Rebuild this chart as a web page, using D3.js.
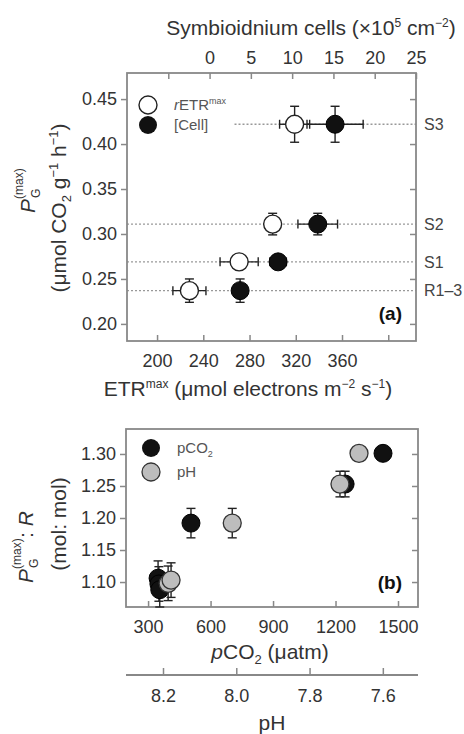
<!DOCTYPE html>
<html><head><meta charset="utf-8">
<script src="https://cdn.jsdelivr.net/npm/d3@7"></script>
<style>
html,body{margin:0;padding:0;background:#fff;}
svg{display:block;font-family:"Liberation Sans",Arial,sans-serif;}
</style></head>
<body>
<svg id="chart" width="464" height="734"></svg>
<script>
// ---------- Panel (a) data ----------
const lineLabels   = ["S3", "S2", "S1", "R1–3"];
const pgMax        = [0.422, 0.311, 0.269, 0.237];
const pgErr        = [0.020, 0.012, 0.005, 0.013];
const etrMax       = [319, 300, 271, 228];
const etrErr       = [13, 3, 16.5, 14.3];
const cells        = [15.2, 13.1, 8.3, 3.7];
const cellsErr     = [3.4, 2.4, 1.0, 0.0];
const lineStartEtr = [267, null, null, null];
const etrTicks  = [200, 240, 280, 320, 360, 400];
const etrLabels = ["200", "240", "280", "320", "360", ""];
const cellTicks  = [-5, 0, 5, 10, 15, 20, 25];
const cellLabels = ["", "0", "5", "10", "15", "20", "25"];
const pgTicks = [0.20, 0.25, 0.30, 0.35, 0.40, 0.45];

// ---------- Panel (b) data ----------
const pco2      = [348, 352, 356, 506, 1246, 1428];
const ratioCO2  = [1.106, 1.097, 1.088, 1.192, 1.253, 1.301];
const errCO2    = [0.027, 0.027, 0.027, 0.023, 0.020, 0.008];
const pHvals    = [8.186, 8.178, 8.011, 7.717, 7.665];
const ratioPH   = [1.098, 1.103, 1.192, 1.253, 1.301];
const errPH     = [0.027, 0.027, 0.023, 0.020, 0.008];
const pco2Ticks = [300, 600, 900, 1200, 1500];
const pHTicks   = [8.2, 8.0, 7.8, 7.6];
const ratioTicks = [1.10, 1.15, 1.20, 1.25, 1.30];

const svg = d3.select("#chart");
const TXT = "#333", FRAME = "#888", R = 9;

function styleAxis(g){
  g.select(".domain").remove();
  g.selectAll(".tick line").attr("stroke", FRAME).attr("stroke-width", 1.5);
  g.selectAll(".tick text").attr("fill", TXT).style("font-size", "18px")
   .style("font-family", '"Liberation Sans",Arial,sans-serif');
}
function frame(x0, x1, y0, y1){
  svg.append("rect").attr("x", x0).attr("y", y0).attr("width", x1 - x0).attr("height", y1 - y0)
    .attr("fill", "none").attr("stroke", FRAME).attr("stroke-width", 1.8);
}
function errX(g, x0, x1, y){
  g.append("line").attr("x1", x0).attr("x2", x1).attr("y1", y).attr("y2", y);
  g.append("line").attr("x1", x0).attr("x2", x0).attr("y1", y - 4.5).attr("y2", y + 4.5);
  g.append("line").attr("x1", x1).attr("x2", x1).attr("y1", y - 4.5).attr("y2", y + 4.5);
}
function errY(g, x, y0, y1){
  g.append("line").attr("x1", x).attr("x2", x).attr("y1", y0).attr("y2", y1);
  g.append("line").attr("x1", x - 4.5).attr("x2", x + 4.5).attr("y1", y0).attr("y2", y0);
  g.append("line").attr("x1", x - 4.5).attr("x2", x + 4.5).attr("y1", y1).attr("y2", y1);
}

// ================= Panel (a) =================
const aL = 127, aR = 416, aT = 73, aB = 341;
const xE = d3.scaleLinear().domain([174, 424]).range([aL, aR]);
const xC = d3.scaleLinear().domain([-10, 25]).range([aL, aR]);
const yA = d3.scaleLinear().domain([0.181, 0.479]).range([aB, aT]);

// dotted reference lines
const refG = svg.append("g");
pgMax.forEach((v, i) => {
  const s = lineStartEtr[i] == null ? xE.domain()[0] : lineStartEtr[i];
  refG.append("line").attr("x1", xE(s)).attr("x2", aR).attr("y1", yA(v)).attr("y2", yA(v))
    .attr("stroke", "#999").attr("stroke-width", 1.3).attr("stroke-dasharray", "2,2");
  svg.append("text").attr("x", aR + 8).attr("y", yA(v)).attr("dy", "0.36em")
    .attr("fill", "#444").style("font-size", "16px").text(lineLabels[i]);
});

// axes
svg.append("g").attr("transform", `translate(${aL},0)`)
  .call(d3.axisLeft(yA).tickValues(pgTicks).tickSizeInner(6).tickSizeOuter(0).tickPadding(4).tickFormat(d3.format(".2f")))
  .call(styleAxis);
svg.append("g").attr("transform", `translate(${aR},0)`)
  .call(d3.axisLeft(yA).tickValues(pgTicks).tickSizeInner(6).tickSizeOuter(0).tickFormat(""))
  .call(styleAxis);
svg.append("g").attr("transform", `translate(0,${aB})`)
  .call(d3.axisBottom(xE).tickValues(etrTicks).tickSizeInner(-6).tickSizeOuter(0).tickPadding(13)
    .tickFormat((d, i) => etrLabels[i]))
  .call(styleAxis);
svg.append("g").attr("transform", `translate(0,${aT})`)
  .call(d3.axisTop(xC).tickValues(cellTicks).tickSizeInner(-6).tickSizeOuter(0).tickPadding(9)
    .tickFormat((d, i) => cellLabels[i]))
  .call(styleAxis);
frame(aL, aR, aT, aB);

// error bars + points
const ebA = svg.append("g").attr("stroke", "#222").attr("stroke-width", 1.4);
pgMax.forEach((v, i) => {
  const y = yA(v);
  errX(ebA, xE(etrMax[i] - etrErr[i]), xE(etrMax[i] + etrErr[i]), y);
  errY(ebA, xE(etrMax[i]), yA(v + pgErr[i]), yA(v - pgErr[i]));
  if (cellsErr[i] > 0) errX(ebA, xC(cells[i] - cellsErr[i]), xC(cells[i] + cellsErr[i]), y);
  errY(ebA, xC(cells[i]), yA(v + pgErr[i]), yA(v - pgErr[i]));
});
svg.append("g").selectAll("circle").data(pgMax).join("circle")
  .attr("cx", (d, i) => xE(etrMax[i])).attr("cy", d => yA(d)).attr("r", R)
  .attr("fill", "#fff").attr("stroke", "#222").attr("stroke-width", 1.4);
svg.append("g").selectAll("circle").data(pgMax).join("circle")
  .attr("cx", (d, i) => xC(cells[i])).attr("cy", d => yA(d)).attr("r", R)
  .attr("fill", "#111").attr("stroke", "#000").attr("stroke-width", 1);

// legend (a)
svg.append("circle").attr("cx", 148).attr("cy", 105).attr("r", R).attr("fill", "#fff").attr("stroke", "#222").attr("stroke-width", 1.4);
svg.append("circle").attr("cx", 148).attr("cy", 125).attr("r", R).attr("fill", "#111");
const lg1 = svg.append("text").attr("x", 174).attr("y", 110).attr("fill", "#555").style("font-size", "15px");
lg1.append("tspan").style("font-style", "italic").text("r");
lg1.append("tspan").text("ETR");
lg1.append("tspan").attr("dy", -6).style("font-size", "9px").text("max");
svg.append("text").attr("x", 174).attr("y", 130).attr("fill", "#555").style("font-size", "15px").text("[Cell]");
svg.append("text").attr("x", 402).attr("y", 320).attr("text-anchor", "end").attr("fill", "#111")
  .style("font-size", "19px").style("font-weight", "bold").text("(a)");

// titles (a)
const tt = svg.append("text").attr("x", 311).attr("y", 35).attr("text-anchor", "middle").attr("fill", TXT).style("font-size", "21px");
tt.append("tspan").text("Symbioidnium cells (×10");
tt.append("tspan").attr("dy", -8).style("font-size", "12px").text("5");
tt.append("tspan").attr("dy", 8).text(" cm");
tt.append("tspan").attr("dy", -8).style("font-size", "12px").text("−2");
tt.append("tspan").attr("dy", 8).text(")");

const bt = svg.append("text").attr("x", 248).attr("y", 396).attr("text-anchor", "middle").attr("fill", TXT).style("font-size", "21px");
bt.append("tspan").text("ETR");
bt.append("tspan").attr("dy", -8).style("font-size", "12px").text("max");
bt.append("tspan").attr("dy", 8).text(" (μmol electrons m");
bt.append("tspan").attr("dy", -8).style("font-size", "12px").text("−2");
bt.append("tspan").attr("dy", 8).text(" s");
bt.append("tspan").attr("dy", -8).style("font-size", "12px").text("−1");
bt.append("tspan").attr("dy", 8).text(")");

// y title (a)
const ya1 = svg.append("g").attr("transform", "translate(35,188) rotate(-90)");
ya1.append("text").attr("x", -25).attr("y", 0).attr("fill", TXT).style("font-size", "21px").style("font-style", "italic").text("P");
ya1.append("text").attr("x", -10).attr("y", 5).attr("fill", TXT).style("font-size", "12px").text("G");
ya1.append("text").attr("x", -11).attr("y", -12).attr("fill", TXT).style("font-size", "12px").text("(max)");
const ya2 = svg.append("text").attr("transform", "translate(66,208) rotate(-90)").attr("text-anchor", "middle").attr("fill", TXT).style("font-size", "21px");
ya2.append("tspan").text("(μmol CO");
ya2.append("tspan").attr("dy", 5).style("font-size", "13px").text("2");
ya2.append("tspan").attr("dy", -5).text(" g");
ya2.append("tspan").attr("dy", -8).style("font-size", "13px").text("−1");
ya2.append("tspan").attr("dy", 8).text(" h");
ya2.append("tspan").attr("dy", -8).style("font-size", "13px").text("−1");
ya2.append("tspan").attr("dy", 8).text(")");

// ================= Panel (b) =================
const bL = 126, bR = 418, bT = 429, bB = 607;
const xP = d3.scaleLinear().domain([194, 1596]).range([bL, bR]);
const xH = d3.scaleLinear().domain([8.301, 7.504]).range([bL, bR]);
const yB = d3.scaleLinear().domain([1.061, 1.339]).range([bB, bT]);

svg.append("g").attr("transform", `translate(${bL},0)`)
  .call(d3.axisLeft(yB).tickValues(ratioTicks).tickSizeInner(6).tickSizeOuter(0).tickPadding(4).tickFormat(d3.format(".2f")))
  .call(styleAxis);
svg.append("g").attr("transform", `translate(${bR},0)`)
  .call(d3.axisLeft(yB).tickValues(ratioTicks).tickSizeInner(6).tickSizeOuter(0).tickFormat(""))
  .call(styleAxis);
svg.append("g").attr("transform", `translate(0,${bB})`)
  .call(d3.axisBottom(xP).tickValues(pco2Ticks).tickSizeInner(-6).tickSizeOuter(0).tickPadding(13).tickFormat(d3.format("d")))
  .call(styleAxis);
frame(bL, bR, bT, bB);

// pH axis
const phAx = svg.append("g").attr("transform", "translate(0,675)")
  .call(d3.axisBottom(xH).tickValues(pHTicks).tickSizeInner(-7).tickSizeOuter(0).tickPadding(14).tickFormat(d3.format(".1f")));
phAx.select(".domain").remove();
phAx.selectAll(".tick line").attr("stroke", FRAME).attr("stroke-width", 1.5);
phAx.selectAll(".tick text").attr("fill", TXT).style("font-size", "18px");
svg.append("line").attr("x1", bL).attr("x2", bR).attr("y1", 675).attr("y2", 675).attr("stroke", FRAME).attr("stroke-width", 1.8);

// error bars and points
const ebB = svg.append("g").attr("stroke", "#222").attr("stroke-width", 1.4);
pco2.forEach((p, i) => errY(ebB, xP(p), yB(ratioCO2[i] + errCO2[i]), yB(ratioCO2[i] - errCO2[i])));
svg.append("g").selectAll("circle").data(pco2).join("circle")
  .attr("cx", d => xP(d)).attr("cy", (d, i) => yB(ratioCO2[i])).attr("r", R)
  .attr("fill", "#111").attr("stroke", "#000").attr("stroke-width", 1);
const ebB2 = svg.append("g").attr("stroke", "#222").attr("stroke-width", 1.4);
pHvals.forEach((p, i) => errY(ebB2, xH(p), yB(ratioPH[i] + errPH[i]), yB(ratioPH[i] - errPH[i])));
svg.append("g").selectAll("circle").data(pHvals).join("circle")
  .attr("cx", d => xH(d)).attr("cy", (d, i) => yB(ratioPH[i])).attr("r", R)
  .attr("fill", "#bdbdbd").attr("stroke", "#333").attr("stroke-width", 1.3);

// legend (b)
svg.append("circle").attr("cx", 151).attr("cy", 448).attr("r", R).attr("fill", "#111");
svg.append("circle").attr("cx", 151).attr("cy", 472).attr("r", R).attr("fill", "#bdbdbd").attr("stroke", "#333").attr("stroke-width", 1.3);
const lb1 = svg.append("text").attr("x", 177).attr("y", 453).attr("fill", "#555").style("font-size", "15px");
lb1.append("tspan").text("pCO");
lb1.append("tspan").attr("dy", 4).style("font-size", "9px").text("2");
svg.append("text").attr("x", 177).attr("y", 477).attr("fill", "#555").style("font-size", "15px").text("pH");
svg.append("text").attr("x", 402).attr("y", 589).attr("text-anchor", "end").attr("fill", "#111")
  .style("font-size", "19px").style("font-weight", "bold").text("(b)");

// titles (b)
const pt = svg.append("text").attr("x", 270).attr("y", 659).attr("text-anchor", "middle").attr("fill", TXT).style("font-size", "21px");
pt.append("tspan").style("font-style", "italic").text("p");
pt.append("tspan").text("CO");
pt.append("tspan").attr("dy", 5).style("font-size", "13px").text("2");
pt.append("tspan").attr("dy", -5).text(" (μatm)");
svg.append("text").attr("x", 272).attr("y", 730).attr("text-anchor", "middle").attr("fill", TXT).style("font-size", "21px").text("pH");

const yb1 = svg.append("g").attr("transform", "translate(33,543) rotate(-90)");
yb1.append("text").attr("x", -40).attr("y", 0).attr("fill", TXT).style("font-size", "21px").style("font-style", "italic").text("P");
yb1.append("text").attr("x", -25).attr("y", 5).attr("fill", TXT).style("font-size", "12px").text("G");
yb1.append("text").attr("x", -26).attr("y", -12).attr("fill", TXT).style("font-size", "12px").text("(max)");
const yb1b = yb1.append("text").attr("x", 5).attr("y", 0).attr("fill", TXT).style("font-size", "21px");
yb1b.append("tspan").text(": ");
yb1b.append("tspan").style("font-style", "italic").text("R");
svg.append("text").attr("transform", "translate(66,524) rotate(-90)").attr("text-anchor", "middle")
  .attr("fill", TXT).style("font-size", "21px").text("(mol: mol)");
</script>
</body></html>
